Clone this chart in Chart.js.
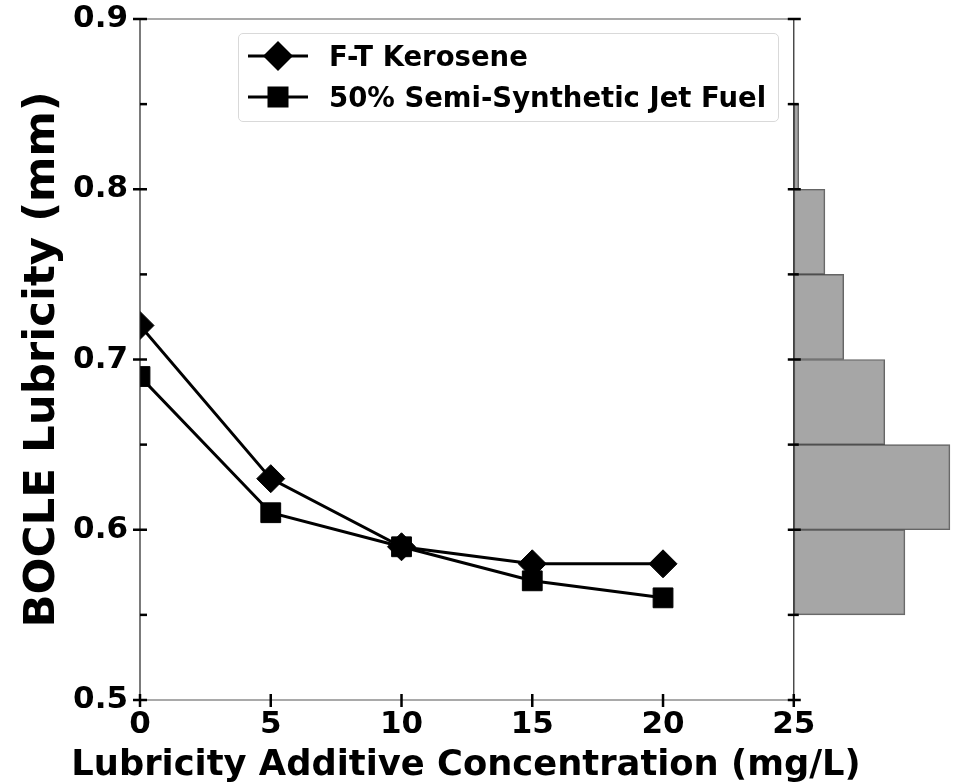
<!DOCTYPE html>
<html>
<head>
<meta charset="utf-8">
<script src="https://cdn.jsdelivr.net/npm/chart.js@4.4.0/dist/chart.umd.min.js"></script>
<style>
html,body{margin:0;padding:0;background:#fff;}
#wrap{position:relative;width:967px;height:783px;}
canvas{display:block;}
#legend{position:absolute;left:238px;top:33px;width:539px;height:87px;border:1px solid #d9d9d9;border-radius:5px;background:rgba(255,255,255,0.85);font-family:'DejaVu Sans';font-weight:bold;font-size:27.5px;color:#000;}
.row{position:absolute;left:9px;height:36px;display:flex;align-items:center;white-space:nowrap;}
.row svg{margin-right:21px;}
#xtitle{position:absolute;left:0;width:932px;top:745px;text-align:center;font-family:'DejaVu Sans';font-weight:bold;font-size:35.3px;line-height:1;color:#000;white-space:nowrap;}
</style>
</head>
<body>
<div id="wrap">
<canvas id="c" width="967" height="783"></canvas>
<div id="legend">
  <div class="row" style="top:4px;">
    <svg width="60" height="36"><line x1="0" y1="18" x2="60" y2="18" stroke="#000" stroke-width="3"/><polygon points="30,3 45,18 30,33 15,18" fill="#000"/></svg>
    <span id="lg0"></span>
  </div>
  <div class="row" style="top:45px;">
    <svg width="60" height="36"><line x1="0" y1="18" x2="60" y2="18" stroke="#000" stroke-width="3"/><rect x="19.5" y="7.5" width="21" height="21" fill="#000"/></svg>
    <span id="lg1"></span>
  </div>
</div>
<div id="xtitle"></div>
</div>
<script>
// ---- data ----
const concentrations = [0, 5, 10, 15, 20];
const ftKerosene = [0.72, 0.63, 0.59, 0.58, 0.58];
const semiSynthetic = [0.69, 0.61, 0.59, 0.57, 0.56];
const histBinCenters = [0.575, 0.625, 0.675, 0.725, 0.775, 0.825];
const histValues = [4.25, 5.97, 3.48, 1.91, 1.19, 0.19];
const xTickValues = [0, 5, 10, 15, 20, 25];
const yTickValues = [0.5, 0.6, 0.7, 0.8, 0.9];
const yMinorTickValues = [0.55, 0.65, 0.75, 0.85];
const seriesNames = ['F-T Kerosene', '50% Semi-Synthetic Jet Fuel'];
const xTitle = 'Lubricity Additive Concentration (mg/L)';
const yTitle = 'BOCLE Lubricity (mm)';

document.getElementById('lg0').textContent = seriesNames[0];
document.getElementById('lg1').textContent = seriesNames[1];
document.getElementById('xtitle').textContent = xTitle;

const XEND = 25;
const XMAX = 31.05;
const FONT = 'DejaVu Sans';

const spinePlugin = {
  id: 'spines',
  afterDatasetsDraw(chart) {
    const {ctx, scales: {x, y}} = chart;
    const x0 = x.getPixelForValue(0), x1 = x.getPixelForValue(XEND);
    const y0 = y.getPixelForValue(0.5), y1 = y.getPixelForValue(0.9);
    const seg = (a, b, c, d) => { ctx.beginPath(); ctx.moveTo(a, b); ctx.lineTo(c, d); ctx.stroke(); };
    ctx.save();
    ctx.lineWidth = 1.2;
    ctx.strokeStyle = '#555';
    seg(x0, y1, x1, y1);
    seg(x0, y0, x1, y0);
    ctx.strokeStyle = '#222';
    seg(x0, y0, x0, y1);
    seg(x1, y0, x1, y1);
    ctx.lineWidth = 2.5;
    ctx.strokeStyle = '#000';
    yTickValues.forEach(v => {
      const p = y.getPixelForValue(v);
      seg(x0 - 7, p, x0 + 7, p);
      seg(x1 - 6, p, x1 + 7, p);
    });
    yMinorTickValues.forEach(v => {
      const p = y.getPixelForValue(v);
      seg(x0, p, x0 + 7, p);
      seg(x1 - 6, p, x1 + 5, p);
    });
    xTickValues.forEach(v => {
      const p = x.getPixelForValue(v);
      seg(p, y0 - 6, p, y0 + 7);
    });
    ctx.restore();
  }
};

new Chart(document.getElementById('c'), {
  type: 'line',
  data: {
    datasets: [
      {
        label: seriesNames[0],
        data: concentrations.map((c, i) => ({x: c, y: ftKerosene[i]})),
        xAxisID: 'x', yAxisID: 'y',
        borderColor: '#000', backgroundColor: '#000', borderWidth: 3,
        pointStyle: 'rectRot', pointRadius: 14, pointBackgroundColor: '#000', pointBorderColor: '#000', pointBorderWidth: 1,
        tension: 0, fill: false
      },
      {
        label: seriesNames[1],
        data: concentrations.map((c, i) => ({x: c, y: semiSynthetic[i]})),
        xAxisID: 'x', yAxisID: 'y',
        borderColor: '#000', backgroundColor: '#000', borderWidth: 3,
        pointStyle: 'rect', pointRadius: 14, pointBackgroundColor: '#000', pointBorderColor: '#000', pointBorderWidth: 1,
        tension: 0, fill: false
      },
      {
        type: 'bar',
        label: 'hist',
        indexAxis: 'y',
        xAxisID: 'xh', yAxisID: 'y',
        data: histBinCenters.map((b, i) => ({y: b, x: histValues[i]})),
        barPercentage: 1, categoryPercentage: 1, grouped: false,
        backgroundColor: 'rgba(128,128,128,0.7)',
        borderColor: 'rgba(50,50,50,0.75)',
        borderWidth: 1,
        borderSkipped: false
      }
    ]
  },
  options: {
    responsive: false,
    animation: false,
    devicePixelRatio: 1,
    layout: {padding: {top: 19, right: 8, left: 0, bottom: 0}},
    plugins: {legend: {display: false}, tooltip: {enabled: false}},
    scales: {
      x: {
        type: 'linear', position: 'bottom', min: 0, max: XMAX, offset: false,
        afterBuildTicks: s => { s.ticks = xTickValues.map(v => ({value: v})); },
        ticks: {stepSize: 5, autoSkip: false, maxRotation: 0, padding: 6, color: '#000',
          font: {family: FONT, size: 31, weight: 'bold'}},
        grid: {display: false, drawTicks: false, offset: false},
        border: {display: false},
        title: {display: false},
        afterFit: s => { s.height = 83; s.paddingLeft = 0; s.paddingRight = 0; }
      },
      xh: {
        type: 'linear', display: false, min: -XEND, max: XMAX - XEND, offset: false,
        grid: {display: false}
      },
      y: {
        type: 'linear', position: 'left', min: 0.5, max: 0.9, offset: false,
        afterBuildTicks: s => { s.ticks = yTickValues.map(v => ({value: v})); },
        ticks: {stepSize: 0.1, padding: 12, color: '#000', callback: v => v.toFixed(1),
          font: {family: FONT, size: 31, weight: 'bold'}},
        grid: {display: false, drawTicks: false, offset: false},
        border: {display: false},
        title: {display: true, text: yTitle, color: '#000',
          font: {family: FONT, size: 43.5, weight: 'bold', lineHeight: 1}, padding: {top: 21, bottom: 0}},
        afterFit: s => { s.width = 140; s.paddingTop = 0; s.paddingBottom = 0; }
      }
    }
  },
  plugins: [spinePlugin]
});
</script>
</body>
</html>
